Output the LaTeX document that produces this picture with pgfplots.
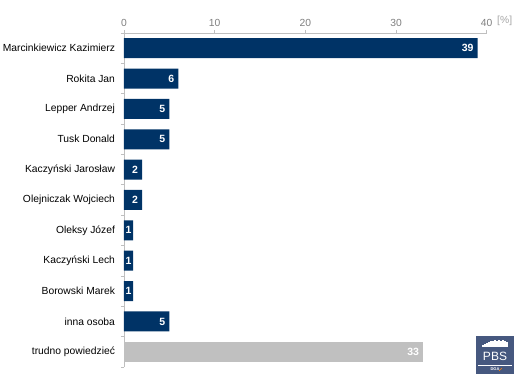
\documentclass[border=0pt]{standalone}
\usepackage{pgfplots}
\pgfplotsset{compat=1.18}
\usepackage{fontspec}
\setmainfont{Liberation Sans}
\definecolor{navy}{HTML}{003366}
\definecolor{lgray}{HTML}{C0C0C0}
\definecolor{axgray}{HTML}{BFBFBF}
\definecolor{tickgray}{HTML}{7F7F7F}
\definecolor{pctgray}{HTML}{A6A6A6}
\definecolor{logo}{HTML}{46587F}
\begin{document}
\begin{tikzpicture}[x=1pt,y=1pt]
\useasboundingbox (0,0) rectangle (520,380);
\begin{axis}[at={(124pt,13pt)}, anchor=south west, scale only axis,
  width=362.7pt, height=334pt,
  xmin=0, xmax=40, ymin=-0.5, ymax=10.5,
  xbar, bar width=20pt, bar shift=0pt,
  axis x line*=top, axis y line*=left,
  axis line style={axgray, line width=0.8pt},
  every tick/.style={axgray, line width=0.8pt},
  tick align=outside,
  major tick length=3pt, minor tick length=3pt,
  xtick={0,10,20,30,40},
  xticklabel style={font=\fontsize{10.3}{12}\selectfont, text=tickgray},
  /pgf/number format/assume math mode=true,
  ytick={0,...,10},
  yticklabels={trudno powiedzieć, inna osoba, Borowski Marek, Kaczyński Lech, Oleksy Józef, Olejniczak Wojciech, Kaczyński Jarosław, Tusk Donald, Lepper Andrzej, Rokita Jan, Marcinkiewicz Kazimierz},
  major y tick style={draw=none},
  minor ytick={-0.5,0.5,...,10.5},
  yticklabel style={font=\fontsize{10.3}{12}\selectfont, text=black, xshift=-2.5pt},
  clip=false,
  nodes near coords,
]
\addplot[fill=navy, draw=none, nodes near coords style={anchor=east, inner xsep=0pt, text=white, font=\bfseries\fontsize{10.5}{12}\selectfont, xshift=-4pt}] coordinates {(39,10) (6,9) (5,8) (5,7) (2,6) (2,5) (5,1)};
\addplot[fill=navy, draw=none, nodes near coords style={anchor=east, inner xsep=0pt, text=white, font=\bfseries\fontsize{10.5}{12}\selectfont, xshift=-1.5pt}] coordinates {(1,4) (1,3) (1,2)};
\addplot[fill=lgray, draw=none, nodes near coords style={anchor=east, inner xsep=0pt, text=white, font=\bfseries\fontsize{10.5}{12}\selectfont, xshift=-4pt}] coordinates {(33,0)};
\node[anchor=west, text=pctgray, font=\fontsize{10.3}{12}\selectfont] at (rel axis cs:1,1) [yshift=12.5pt, xshift=7pt] {[\%]};
\end{axis}
% logo
\fill[logo] (476,6) rectangle (514,44);
\draw[white, line width=0.4pt] (478,15) -- (512,15);
\node[text=white, font=\fontsize{12}{12}\selectfont, inner sep=0pt] at (495,24) {PBS};
\foreach \xx/\hh in {483/2,485/3,487/4,489/5,491/6,493/6,495/7,497/6,499/7,501/6,503/7,505/6,507/5} {
  \fill[white] (\xx-0.6,33) rectangle (\xx+0.6,33+\hh);
}
\node[text=white, font=\bfseries\fontsize{4}{4}\selectfont, inner sep=0pt] at (495,10.5) {DGA};
\draw[orange, line width=0.4pt] (499,9) -- (502,12);
\end{tikzpicture}
\end{document}
